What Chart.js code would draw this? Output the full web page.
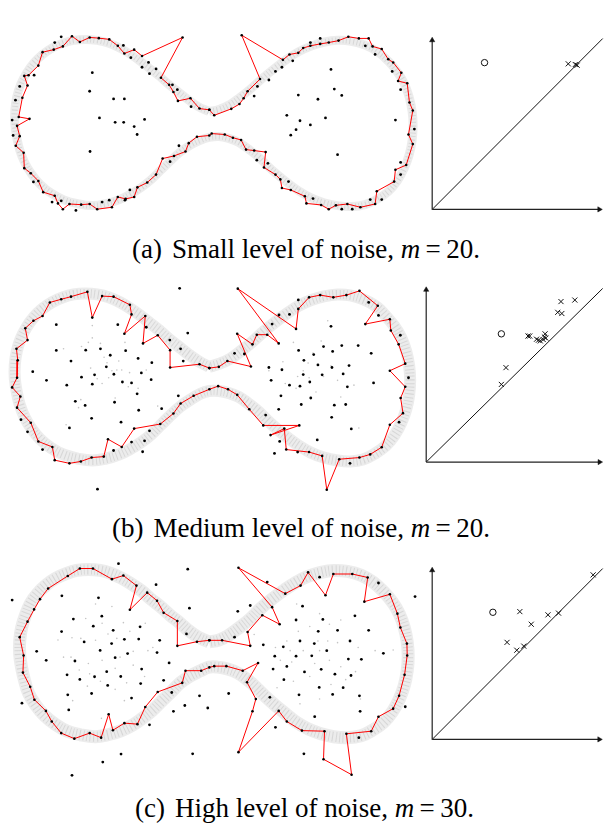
<!DOCTYPE html>
<html><head><meta charset="utf-8">
<script src="https://cdn.jsdelivr.net/npm/chart.js"></script>
<style>
html,body{margin:0;padding:0;background:#fff;}
#fig{position:relative;width:608px;height:831px;overflow:hidden;background:#fff;}
canvas{position:absolute;}
.cap{position:absolute;white-space:nowrap;font-family:"Liberation Serif","Times New Roman",serif;font-size:27px;line-height:1;color:#000;}
.cap .lab{margin-right:10px;}
.cap i{font-style:italic;}
</style></head><body>
<div id="fig">
<canvas id="la"></canvas><canvas id="pa"></canvas>
<canvas id="lb"></canvas><canvas id="pb"></canvas>
<canvas id="lc"></canvas><canvas id="pc"></canvas>
<div class="cap" id="capA" style="left:132px;top:236px"><span class="lab">(a)</span>Small level of noise, <i>m</i>&#8201;=&#8201;20.</div>
<div class="cap" id="capB" style="left:112px;top:515px"><span class="lab">(b)</span>Medium level of noise, <i>m</i>&#8201;=&#8201;20.</div>
<div class="cap" id="capC" style="left:135px;top:795px"><span class="lab">(c)</span>High level of noise, <i>m</i>&#8201;=&#8201;30.</div>
</div>
<script>
// ---------- Row (a): small noise ----------
const bandA = [[209,111],[198,106],[188,99],[178,91],[168,83],[158,74],[148,66],[138,58],[128,51],[118,45],[107,40],[95,37],[83,36],[71,37],[60,40],[49,45],[39,52],[30,61],[23,71],[17,83],[13,96],[11,110],[11,124],[13,138],[16,151],[21,164],[28,176],[37,187],[48,196],[61,203],[75,207],[90,209],[104,207],[117,203],[129,197],[140,190],[150,182],[160,172],[170,162],[180,153],[190,146],[200,141],[209,138],[219,137],[229,139],[239,143],[249,150],[259,158],[269,168],[279,177],[290,186],[301,194],[313,201],[326,206],[340,209],[354,210],[368,208],[381,202],[392,194],[401,183],[408,170],[413,156],[416,141],[417,126],[416,111],[413,96],[408,82],[401,70],[392,59],[381,49],[368,42],[354,38],[340,37],[326,39],[313,43],[300,49],[288,57],[276,66],[264,76],[252,87],[241,96],[230,104],[219,109],[209,111]];
const polyA = [[209.3,109.3],[199.3,108],[190,97.3],[177.3,100],[172.7,90.7],[168.3,83.3],[160,76],[182,34],[140.7,53.3],[132.7,46.7],[122.7,50.7],[116,42.7],[107.3,36],[96.7,34.7],[87.3,34],[77.3,38.7],[69.3,32.7],[60,43.3],[50.7,46.7],[39.3,49.3],[35,63.3],[25,73.3],[20.7,74],[24,84],[18.7,96.7],[15,116.7],[26,118.7],[13.3,126],[16,136.7],[12,146.7],[20,154],[20.7,170],[27.3,175.3],[35,183.3],[40,195],[51.7,198.7],[55,206.7],[60,212.7],[66.7,207.3],[78.7,208],[87.3,207.3],[95,212.7],[110,210.7],[116,200],[124,202],[132.7,200],[136,190],[146,185],[155,176.7],[161.7,160],[173.3,157.3],[185,152.7],[188.3,144],[196.7,137.3],[209.3,136],[211.7,134],[225,135],[233.3,138.3],[241.7,140.7],[246.7,150.7],[255,151.7],[266.7,153.3],[265,169.3],[276.7,176.7],[281.7,181.7],[283.3,190.7],[292.3,192.7],[306.7,199.3],[308.3,206.7],[323.3,208.3],[331,212.7],[338.3,208.7],[350,207.3],[363.3,210.7],[378.3,207.3],[380,194],[397.7,184],[399,171.7],[410,166.7],[416.7,145],[412.3,135],[416.7,110],[413.3,101.7],[411,81.7],[401.7,79.3],[405,70.7],[396.7,60],[391.7,56.7],[385,46],[375.7,43.3],[371.7,35],[361.7,35],[351,33.3],[341,37.3],[331,39.3],[322.3,40.7],[312.3,42.7],[305,45],[300,50],[291,51.7],[284.3,57.3],[242.3,31.7],[261,77.3],[248.3,90],[244.3,97.3],[240,103.3],[231.7,108.3],[214.3,115],[209.3,109.3]];
const dotsA = [[90,70.7],[87.3,90],[111.7,98],[122.7,98],[97.3,117.7],[113.3,122.3],[122,122.3],[143.3,119.3],[132.7,126.7],[135.7,135],[87.7,152.7],[58.3,33.3],[51.7,39.3],[121.7,42.3],[129.3,55],[147.3,60],[140.7,65],[148.3,71.7],[155,66.7],[176.7,88.3],[171.7,83.3],[190.7,106],[30.7,73.3],[16,85],[11.7,99.3],[8.3,120],[9.3,136],[30,184.3],[49,205.3],[58.3,204],[73.3,214],[100,205.3],[107.3,203.3],[128.3,192.7],[123.3,203.3],[169.3,163.3],[178.3,146.7],[312.3,39.3],[322.3,35],[368.3,42.7],[378.3,51.7],[395.7,69.3],[404.3,88.3],[418.3,129.3],[404.3,164],[404.3,176.7],[385,202.7],[373.3,202.7],[355,212.7],[344.3,212.7],[315,201.7],[290,184],[269,165],[257.7,161.7],[255,95],[258.3,85],[270,78.3],[276.7,69.3],[283.3,65],[294.3,58.3],[333.3,67.3],[336.7,87.7],[344.3,94.3],[300,94],[320,98.3],[288.3,115],[301.7,120.7],[327.7,117.7],[312.3,125],[297.7,130],[292.3,135.7],[340,156],[399,120]];
const pdCircleA = [[0.307,0.859]];
const pdCrossA = [[0.798,0.852],[0.839,0.848],[0.85,0.844]];

// ---------- Row (b): medium noise ----------
const bandB = [[209,366],[198,360],[188,353],[178,345],[168,337],[158,328],[148,320],[138,312],[128,305],[118,299],[107,294],[95,291],[83,290],[71,291],[60,294],[49,299],[39,306],[30,315],[23,325],[17,337],[13,350],[11,364],[11,378],[13,392],[16,405],[21,418],[28,430],[37,441],[48,450],[61,457],[75,461],[90,463],[104,461],[117,457],[129,451],[140,444],[150,436],[160,426],[170,416],[180,407],[190,400],[200,394],[209,391],[219,391],[229,393],[239,397],[249,404],[259,412],[269,422],[279,431],[290,440],[301,448],[313,455],[326,460],[340,463],[353,464],[366,462],[378,456],[389,448],[398,437],[405,424],[410,410],[413,395],[414,380],[413,365],[410,350],[405,336],[398,324],[389,313],[379,303],[366,296],[353,292],[340,291],[326,293],[313,297],[300,303],[288,311],[276,320],[264,330],[252,341],[241,350],[230,358],[219,363],[209,366]];
const polyB = [[209.3,367.3],[199.3,363.3],[169.3,366.7],[169.3,348.7],[156.7,333.3],[141.7,341.7],[144,313.3],[122.7,331.7],[130,311.7],[128.3,301.7],[111.7,293.3],[100,292.7],[90,315],[85,288.3],[68.3,293.3],[58.3,296],[46.7,299.3],[39.3,313.3],[30,318.3],[21.7,326],[24,338.3],[12.7,347.3],[14,359.3],[13.3,377.3],[8.3,387.3],[16.7,396.7],[13.3,408.3],[27.3,424],[35,443.3],[49.3,449],[51.7,462.7],[66.7,466],[78.3,464],[89.3,460],[101.7,459],[106,441],[120,449],[132.7,430],[159.3,425.3],[172.7,414.3],[180,404],[193.3,396],[209.3,389.3],[218.3,386],[228.3,389.3],[237.7,395],[250,410],[264.3,426.7],[301,426.7],[271.7,436.7],[285.7,430],[287.7,451.7],[311,454.3],[324.3,458.3],[329,493.3],[341.7,461.7],[362.3,460],[373.3,456.7],[385,449.3],[393.3,426],[406.7,414],[404.3,398.3],[409,386.7],[393.3,370],[409,362.7],[402.3,342.7],[394.3,328.3],[393.3,316.7],[368.3,321.7],[381,302.7],[362.3,287.3],[349,291.7],[335.7,294],[322.3,291.7],[311,294],[300,306],[297.7,326.7],[238.3,285],[280,341.7],[268.3,332.7],[257.7,332.7],[253.3,342.7],[237.7,331.7],[251.7,365.7],[227.7,360],[219,366],[209.3,367.3]];
const dotsB = [[53.3,322.3],[116,322.3],[53.3,349],[83.3,348.7],[98.3,347.3],[108.3,354],[124,349.3],[136.7,357.3],[150.7,361.7],[68.3,360],[29.3,371],[43.3,380],[79,376.7],[92.3,374.3],[104.3,366],[112,373.7],[120.7,381.7],[130,382.7],[140,372.3],[150,379.3],[64,385],[90,384],[135.7,394],[72.7,401.7],[82.7,406],[112.7,402.7],[137.3,411],[89.3,419.3],[119.3,423.3],[66.7,429.3],[179,284.7],[187.3,331],[169,338.3],[180,347.3],[182.7,360],[145,325],[17.3,420.7],[24,433.3],[39.3,451.7],[111.7,452.7],[130,444],[143.3,442.7],[148.3,432.3],[141.3,454],[160.7,409.3],[177.7,396],[95.3,492.7],[333.3,324],[325.7,345],[335,350],[344.3,344],[361,344],[374.3,352],[300.3,349],[315.7,353.3],[305.7,359.3],[320,364],[334.3,366.7],[351.7,364.7],[270,366.7],[283.3,369],[272.3,380],[305,374],[324.3,374.3],[345.7,373.3],[291,385],[301.7,386],[311.7,381.7],[350,386.7],[376.7,382.7],[282.3,396],[312.7,398.3],[303,405],[280,410],[336.7,405.7],[348.3,405],[334,418.3],[354,430.3],[319.3,441.7],[300,296.7],[291,311.7],[280.3,312.3],[273.3,321.7],[245,352.7],[235,352],[371.7,299.3],[381.7,312.7],[404,333.3],[412.3,377.3],[402.7,423.3],[266.7,416],[281,443.3],[275.7,455.7],[299.3,454.3],[352.7,466]];
const grayB = [[90,323.3],[86,340.7],[98.3,341.7],[79,345],[60.7,347.3],[123.3,340.7],[105,361.7],[110,370],[115,369.3],[120,369.3],[106.7,377.3],[95,378.3],[88.3,367.3],[78.3,400],[76,408.3],[113.3,398.3],[156.7,406.7],[145,369.3],[136.7,388.3],[63.3,426],[126.7,386.7],[100,383.3],[330,318.3],[295,340.7],[323.3,339.3],[315,351.7],[284.3,360.7],[305,370],[311,377.3],[286.7,383.3],[299.3,376],[343.3,397.3],[361.7,429.3],[356.7,385],[333.3,365],[325.7,376],[297.7,388.3],[270,370],[90,336],[117,360],[102,356],[128,372],[310,362],[318,392],[340,380]];
const pdCircleB = [[0.44,0.763]];
const pdCrossB = [[0.789,0.955],[0.87,0.964],[0.77,0.891],[0.794,0.884],[0.596,0.75],[0.606,0.75],[0.646,0.731],[0.657,0.725],[0.668,0.721],[0.685,0.729],[0.696,0.763],[0.7,0.738],[0.692,0.744],[0.467,0.562],[0.44,0.462]];

// ---------- Row (c): high noise ----------
const bandC = [[209,641],[198,636],[188,629],[179,621],[169,613],[159,604],[149,596],[140,588],[130,581],[120,575],[109,570],[98,567],[86,566],[74,567],[64,570],[53,575],[43,582],[34,591],[27,601],[22,613],[18,626],[16,640],[16,654],[18,668],[21,681],[25,694],[32,706],[41,717],[52,726],[64,733],[78,737],[93,739],[106,737],[119,733],[131,727],[141,720],[151,712],[161,702],[171,692],[180,683],[190,676],[200,671],[209,667],[218,667],[228,669],[238,673],[248,680],[257,688],[267,698],[277,707],[288,716],[298,724],[310,731],[323,736],[336,739],[350,740],[364,738],[376,732],[387,724],[396,713],[403,700],[408,686],[411,671],[412,656],[411,641],[408,626],[403,612],[396,600],[387,589],[376,579],[364,572],[350,568],[336,567],[323,569],[310,573],[298,579],[286,587],[274,596],[262,606],[251,617],[240,626],[229,634],[219,639],[209,641]];
const polyC = [[209.3,639.3],[196.7,640.7],[176.7,645],[176.7,619.3],[162.7,610.7],[156,598.3],[146,590],[128.3,607.7],[135,582.7],[121.7,572.3],[110,576],[90.7,565],[77.3,565],[65,572.7],[45,585.7],[36.7,596.7],[30.7,607.3],[24,620],[16,636],[20,655],[19.3,672.7],[26.7,687.3],[31,700.7],[42.7,712.3],[48.7,723.3],[58.3,735.3],[71.7,741],[87.3,735.3],[99,740],[106.7,715.7],[111,732.3],[122.7,725],[136,726],[144,708.3],[156.7,692.7],[181.7,683.3],[185,670.7],[201,670.7],[209.3,667.3],[214.3,666],[226.7,666],[243.3,670.7],[259,662.7],[247.7,682.7],[256.7,700],[253.3,712.7],[239,755],[280,712.3],[288.3,723.3],[303.7,732.7],[326.7,733.3],[325.7,762.3],[354.3,778.3],[349,736],[374.3,733.3],[381.7,718.3],[396.7,710],[402.7,696.7],[408.3,675],[411,655],[410.7,642.7],[404,626],[401,611.7],[393.3,591.7],[367.3,599.3],[370.7,574.3],[355,570.7],[335.7,570.7],[327.7,592.7],[310,569],[302.3,582.7],[286.7,591],[239,564.3],[273.3,605],[281,622.7],[263.3,613.3],[248.3,630.7],[251,645],[222.3,639.3],[209.3,639.3]];
const dotsC = [[116.7,560],[187.3,565.7],[155,581.7],[8.3,597.7],[189,606],[186,632.7],[168.3,662.7],[162.7,680.7],[171,693.3],[199.3,696.7],[184.3,706.7],[172.7,712.7],[207.7,709.3],[18.3,704.3],[148.3,726.7],[119.3,757],[100.7,765.3],[69.3,779],[192.3,756.7],[59,593.3],[96.3,595.3],[70.7,617.3],[99.7,614.3],[91,624.7],[58.7,630.3],[111.3,629],[138.7,625.3],[81.7,641],[109.7,642.7],[122.7,638.3],[137.3,638],[158.7,639.3],[33.3,650.7],[98,649.7],[43,660],[72.3,660.7],[113.3,657.3],[126,653],[156,652],[140.3,669],[104.7,671.7],[64.3,675],[92.3,677],[119,676.7],[77.3,679.7],[139.3,684],[105.7,686],[89.3,694.3],[65,695.7],[130,699],[66,711.3],[268.3,579],[321.7,574],[381.7,580],[419,594],[251,603.3],[238.3,609.3],[304.3,604],[235,636],[229,694.3],[276.7,729.3],[305.7,756.7],[361.7,740],[409,708],[386.7,652.7],[271,698.3],[264.3,644],[297.7,618.3],[325,617.7],[357.7,614],[340,629],[371.7,629],[320.3,630],[301.7,640],[316.3,642.7],[352.7,640],[284.7,646],[329,650],[276,655.7],[297.7,655.7],[313.7,655.3],[351,658.7],[364.3,659],[288.3,666.3],[274.3,669],[306.3,672],[323.3,669.3],[337.3,674.3],[353.7,675.7],[285.3,680],[321.3,688],[345.7,688.3],[300.7,695.7],[335,695.3],[362.3,696.7],[363,712.7],[316.7,718.3]];
const grayC = [[110,604.3],[93.3,601.7],[121.7,621],[100,621.7],[83.3,616.7],[78.3,637.3],[93.3,639.3],[106,632.7],[115,637.3],[128.3,630],[144,621.7],[151.7,646.7],[146.7,650],[131.7,650.7],[118.3,656.7],[100,660],[86,663.3],[68.3,656.7],[60.7,656.7],[76.7,670],[87.3,674],[113.3,668.3],[131.7,665],[143.3,676.7],[125,683.3],[98.3,681.7],[85,686.7],[70,701.7],[113.3,690],[122.7,701.7],[99.3,720],[55,639],[69.3,636.7],[298.3,601.7],[321.7,611.7],[343.3,618.3],[331.7,622.7],[311.7,625],[300,630],[288.3,640],[276.7,646.7],[320,640],[330,640],[340,641.7],[361,646.7],[378.3,650],[305,650],[291.7,650],[321.7,650],[281.7,660],[293.3,661.7],[316.7,663.3],[331.7,660],[343.3,666.7],[358.3,671.7],[311.7,676.7],[295,681.7],[333.3,685],[348.3,680],[363.3,700],[301.7,705],[321.7,700],[396.7,649.3],[278.3,688.3],[255,633.3]];
const pdCircleC = [[0.356,0.744]];
const pdCrossC = [[0.514,0.748],[0.679,0.729],[0.741,0.739],[0.581,0.674],[0.439,0.568],[0.496,0.522],[0.537,0.546],[0.944,0.963]];

// ---------- helpers ----------
function pts(a){return a.map(p=>({x:p[0],y:p[1]}));}
function place(id,box){const cv=document.getElementById(id);cv.width=box[2];cv.height=box[3];cv.style.left=box[0]+'px';cv.style.top=box[1]+'px';return cv;}
const baseOpts={responsive:false,animation:false,devicePixelRatio:1,layout:{padding:0},events:[],plugins:{legend:{display:false},tooltip:{enabled:false}}};

function leftChart(id,box,band,bandW,poly,dots,gray){
  const cv=place(id,box);
  new Chart(cv,{type:'scatter',data:{datasets:[
    {data:pts(band),showLine:true,borderColor:'rgba(185,185,185,0.28)',borderWidth:bandW,pointRadius:0,tension:0.4,order:10,clip:false},
    {data:pts(band),showLine:true,borderColor:'rgba(140,140,140,0.22)',borderWidth:bandW-3,borderDash:[1,2.5],pointRadius:0,tension:0.4,order:9,clip:false},
    {data:pts(gray),pointRadius:0.8,pointBackgroundColor:'#c4c4c4',pointBorderWidth:0,order:8,clip:false},
    {data:pts(poly),showLine:true,borderColor:'#ff0000',borderWidth:1,pointRadius:1.3,pointBackgroundColor:'#000',pointBorderWidth:0,order:2,clip:false},
    {data:pts(dots),pointRadius:1.4,pointBackgroundColor:'#000',pointBorderWidth:0,order:1,clip:false}
  ]},options:Object.assign({},baseOpts,{scales:{
    x:{type:'linear',display:false,min:box[0],max:box[0]+box[2]},
    y:{type:'linear',display:false,min:box[1],max:box[1]+box[3],reverse:true}}})});
}

function pdChart(id,box,origin,unit,axX,axY,diagEnd,circ,cross){
  const cv=place(id,box);
  const xmin=(box[0]-origin[0])/unit[0], xmax=(box[0]+box[2]-origin[0])/unit[0];
  const ymin=(origin[1]-(box[1]+box[3]))/unit[1], ymax=(origin[1]-box[1])/unit[1];
  new Chart(cv,{type:'scatter',data:{datasets:[
    {data:[{x:0,y:0},{x:axX,y:0}],showLine:true,borderColor:'#222',borderWidth:1.2,pointRadius:0,order:5,clip:false},
    {data:[{x:0,y:0},{x:0,y:axY}],showLine:true,borderColor:'#222',borderWidth:1.2,pointRadius:0,order:5,clip:false},
    {data:[{x:axX,y:0},{x:0,y:axY}],pointStyle:'triangle',pointRadius:3,pointRotation:[90,0],pointBackgroundColor:'#111',pointBorderColor:'#111',pointBorderWidth:0.5,order:4,clip:false},
    {data:[{x:0,y:0},{x:diagEnd,y:diagEnd}],showLine:true,borderColor:'#111',borderWidth:1,pointRadius:0,order:6,clip:false},
    {data:pts(circ),pointStyle:'circle',pointRadius:3.2,pointBackgroundColor:'#fff',pointBorderColor:'#111',pointBorderWidth:1,order:2,clip:false},
    {data:pts(cross),pointStyle:'crossRot',pointRadius:3.6,pointBorderColor:'#111',pointBorderWidth:1,order:1,clip:false}
  ]},options:Object.assign({},baseOpts,{scales:{
    x:{type:'linear',display:false,min:xmin,max:xmax},
    y:{type:'linear',display:false,min:ymin,max:ymax}}})});
}

leftChart('la',[0,20,422,205],bandA,9,polyA,dotsA,[]);
leftChart('lb',[0,275,422,230],bandB,12,polyB,dotsB,grayB);
leftChart('lc',[0,550,422,240],bandC,13,polyC,dotsC,grayC);

pdChart('pa',[418,25,190,197],[427.7,214],[180,180],0.98,0.99,1.0,pdCircleA,pdCrossA);
pdChart('pb',[412,276,196,198],[421.7,466.7],[180,177],1.015,1.025,1.033,pdCircleB,pdCrossB);
pdChart('pc',[418,555,190,197],[427.7,744],[180,180],0.98,0.99,1.0,pdCircleC,pdCrossC);
</script>
</body></html>
